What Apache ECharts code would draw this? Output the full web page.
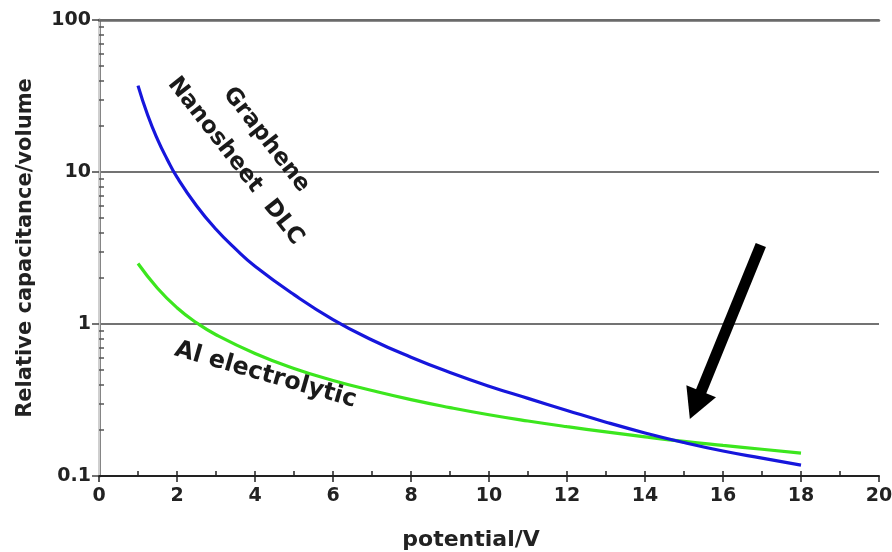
<!DOCTYPE html>
<html><head><meta charset="utf-8">
<script src="https://cdn.jsdelivr.net/npm/echarts@6/dist/echarts.min.js"></script>
<style>html,body{margin:0;padding:0;background:#fff}#c{width:892px;height:552px}</style>
</head><body><div id="c"></div>
<script>
// ---- data ----
const blueName = 'Graphene Nanosheet DLC';
const blueX = [1, 1.25, 1.5, 1.75, 2, 2.5, 3, 3.5, 4, 5, 6, 7, 8, 9, 10, 11, 12, 13, 14, 15, 16, 17, 18];
const blueY = [37, 23.6, 16.4, 12.1, 9.25, 6.0, 4.2, 3.12, 2.4, 1.56, 1.07, 0.785, 0.605, 0.48, 0.39, 0.324, 0.27, 0.226, 0.192, 0.166, 0.146, 0.131, 0.118];
const greenName = 'Al electrolytic';
const greenX = [1, 1.5, 2, 2.5, 3, 4, 5, 6, 7, 8, 9, 10, 11, 12, 13, 14, 15, 16, 17, 18];
const greenY = [2.5, 1.72, 1.28, 1.02, 0.85, 0.64, 0.51, 0.425, 0.365, 0.318, 0.282, 0.253, 0.23, 0.211, 0.195, 0.181, 0.169, 0.159, 0.15, 0.1415];
const xMinorTicks = [1,2,3,4,5,6,7,8,9,10,11,12,13,14,15,16,17,18,19];
const yMinorTicks = [0.2,0.3,0.4,0.5,0.6,0.7,0.8,0.9,2,3,4,5,6,7,8,9,20,30,40,50,60,70,80,90];
const xTitle = 'potential/V';
const yTitle = 'Relative capacitance/volume';
// annotation anchors (data coordinates) and texts
const annotTexts = ['Graphene', 'Nanosheet  DLC', 'Al electrolytic'];
const annotAnchors = [[4.29, 16.3], [3.5, 11.8], [4.27, 0.462]];
const annotRotDeg = [-52, -52, -16];
const arrowTail = [16.97, 3.31];
const arrowTip = [15.15, 0.237];

const FONT = 'DejaVu Sans';
const chart = echarts.init(document.getElementById('c'), null, {renderer: 'canvas'});
chart.setOption({
  animation: false,
  backgroundColor: '#fff',
  grid: {left: 99, right: 13, top: 20, bottom: 76, containLabel: false, outerBoundsMode: 'none'},
  xAxis: [
    {type: 'value', position: 'bottom', min: 0, max: 20, interval: 2,
     name: xTitle, nameLocation: 'middle', nameGap: 53,
     nameTextStyle: {fontFamily: FONT, fontWeight: 'bold', fontSize: 22, color: '#222', padding: [0, 36, 0, 0]},
     axisLine: {show: true, lineStyle: {color: '#222', width: 2}},
     axisTick: {show: true, inside: false, length: 6, lineStyle: {color: '#222', width: 1.5}},
     axisLabel: {fontFamily: FONT, fontWeight: 'bold', fontSize: 19, color: '#222', margin: 11},
     splitLine: {show: false}},
    {type: 'value', position: 'bottom', min: 0, max: 20,
     axisLine: {show: false},
     axisTick: {show: true, inside: true, length: 5, customValues: xMinorTicks, lineStyle: {color: '#222', width: 1.5}},
     axisLabel: {show: false}, splitLine: {show: false}},
    {type: 'value', position: 'top', min: 0, max: 20,
     axisLine: {show: true, lineStyle: {color: '#6a6a6a', width: 2.5}},
     axisTick: {show: false}, axisLabel: {show: false}, splitLine: {show: false}}
  ],
  yAxis: [
    {type: 'log', logBase: 10, min: 0.1, max: 100, position: 'left',
     name: yTitle, nameLocation: 'middle', nameRotate: 90, nameGap: 63,
     nameTextStyle: {fontFamily: FONT, fontWeight: 'bold', fontSize: 21, color: '#222'},
     axisLine: {show: true, lineStyle: {color: '#858585', width: 3}},
     axisTick: {show: true, inside: false, length: 7, lineStyle: {color: '#444', width: 1.5}},
     axisLabel: {fontFamily: FONT, fontWeight: 'bold', fontSize: 19, color: '#222', margin: 8},
     splitLine: {show: true, lineStyle: {color: '#444', width: 1.5}}},
    {type: 'log', logBase: 10, min: 0.1, max: 100, position: 'left',
     axisLine: {show: false},
     axisTick: {show: true, inside: true, length: 5, customValues: yMinorTicks, lineStyle: {color: '#555', width: 1.5}},
     axisLabel: {show: false}, splitLine: {show: false}},
    {type: 'log', logBase: 10, min: 0.1, max: 100, position: 'right',
     axisLine: {show: true, lineStyle: {color: '#cfcfcf', width: 2}},
     axisTick: {show: false}, axisLabel: {show: false}, splitLine: {show: false}}
  ],
  series: [
    {name: greenName, type: 'line', xAxisIndex: 0, yAxisIndex: 0, symbol: 'none', smooth: 0.5,
     data: greenX.map((x, i) => [x, greenY[i]]),
     lineStyle: {color: '#3ce61e', width: 3.2}, z: 3},
    {name: blueName, type: 'line', xAxisIndex: 0, yAxisIndex: 0, symbol: 'none', smooth: 0.5,
     data: blueX.map((x, i) => [x, blueY[i]]),
     lineStyle: {color: '#1616dc', width: 3.2}, z: 4}
  ]
});

function px(p) { return chart.convertToPixel({xAxisIndex: 0, yAxisIndex: 0}, p); }
const graphics = annotTexts.map((t, i) => {
  const p = px(annotAnchors[i]);
  return {type: 'text', x: p[0], y: p[1], rotation: annotRotDeg[i] * Math.PI / 180, z: 10,
    style: {text: t, x: 0, y: 0, align: 'center', verticalAlign: 'middle',
      font: 'bold ' + (i === 2 ? 24 : 23) + 'px "DejaVu Sans"', fill: '#1a1a1a'}};
});
const P0 = px(arrowTail), P1 = px(arrowTip);
const dx = P1[0] - P0[0], dy = P1[1] - P0[1], len = Math.hypot(dx, dy);
const ux = dx / len, uy = dy / len, nx = -uy, ny = ux;
const HL = 30, HW = 16;
const B = [P1[0] - ux * HL, P1[1] - uy * HL];
graphics.push({type: 'line', z: 10, shape: {x1: P0[0], y1: P0[1], x2: B[0] + ux * 2, y2: B[1] + uy * 2},
  style: {stroke: '#000', lineWidth: 11, lineCap: 'butt'}});
graphics.push({type: 'polygon', z: 10, shape: {points: [P1, [B[0] + nx * HW, B[1] + ny * HW], [B[0] - nx * HW, B[1] - ny * HW]]},
  style: {fill: '#000'}});
chart.setOption({graphic: graphics});
</script>
</body></html>
